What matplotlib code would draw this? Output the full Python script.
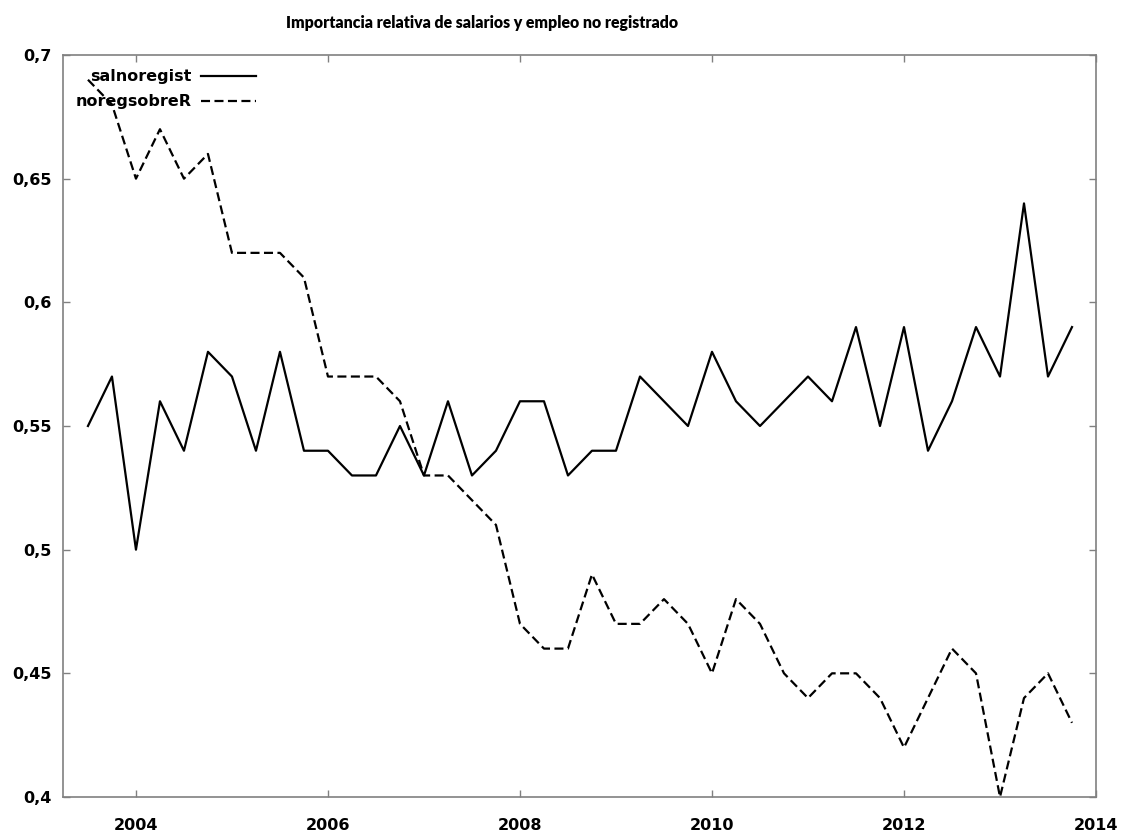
import numpy as np
import pandas as pd
import matplotlib
matplotlib.use("Agg")
import matplotlib.pyplot as plt

# Quarterly series, 2003Q3 .. 2013Q4
periods = pd.period_range("2003Q3", "2013Q4", freq="Q")
salnoregist = [0.55, 0.57, 0.50, 0.56, 0.54, 0.58, 0.57, 0.54, 0.58, 0.54,
               0.54, 0.53, 0.53, 0.55, 0.53, 0.56, 0.53, 0.54, 0.56, 0.56,
               0.53, 0.54, 0.54, 0.57, 0.56, 0.55, 0.58, 0.56, 0.55, 0.56,
               0.57, 0.56, 0.59, 0.55, 0.59, 0.54, 0.56, 0.59, 0.57, 0.64,
               0.57, 0.59]
noregsobreR = [0.69, 0.68, 0.65, 0.67, 0.65, 0.66, 0.62, 0.62, 0.62, 0.61,
               0.57, 0.57, 0.57, 0.56, 0.53, 0.53, 0.52, 0.51, 0.47, 0.46,
               0.46, 0.49, 0.47, 0.47, 0.48, 0.47, 0.45, 0.48, 0.47, 0.45,
               0.44, 0.45, 0.45, 0.44, 0.42, 0.44, 0.46, 0.45, 0.40, 0.44,
               0.45, 0.43]
x_ticks = [2004, 2006, 2008, 2010, 2012, 2014]
y_ticks = [0.4, 0.45, 0.5, 0.55, 0.6, 0.65, 0.7]
y_tick_labels = ["0,4", "0,45", "0,5", "0,55", "0,6", "0,65", "0,7"]

t = np.array([p.year + (p.quarter - 1) / 4.0 for p in periods])

plt.rcParams["font.family"] = ["DejaVu Sans"]
plt.rcParams["lines.scale_dashes"] = False

fig = plt.figure(figsize=(11.22, 8.31), dpi=100)
ax = fig.add_axes([63 / 1122, 1 - 797 / 831, (1096 - 63) / 1122, (797 - 55) / 831])

ax.plot(t, salnoregist, color="black", lw=1.6, label="salnoregist")
ax.plot(t, noregsobreR, color="black", lw=1.6, linestyle=(0, (6.5, 3.2)),
        label="noregsobreR")

ax.set_xlim(2003.24, 2014)
ax.set_ylim(0.4, 0.7)
ax.set_xticks(x_ticks)
ax.set_xticklabels([str(v) for v in x_ticks])
ax.set_yticks(y_ticks)
ax.set_yticklabels(y_tick_labels)

spine_col = "#808080"
for s in ax.spines.values():
    s.set_color(spine_col)
    s.set_linewidth(1.2)
ax.tick_params(direction="in", length=5, width=1, color=spine_col,
               top=True, right=True, labelsize=11.5, labelcolor="black")
ax.tick_params(axis="x", pad=15)
ax.tick_params(axis="y", pad=8)
for lab in ax.get_xticklabels() + ax.get_yticklabels():
    lab.set_fontweight("bold")

leg = ax.legend(loc="upper left", bbox_to_anchor=(0.0, 0.998),
                markerfirst=False, frameon=False, handlelength=3.4,
                handletextpad=0.6, labelspacing=0.62, borderpad=0.3,
                prop={"size": 11.5, "weight": "bold"})

fig.text(482 / 1122, 1 - 23 / 831,
         "Importancia relativa de salarios y empleo no registrado",
         ha="center", va="center", fontsize=11.4, fontweight="heavy",
         family=["Lato", "DejaVu Sans"])

fig.savefig("out.png", dpi=100)
